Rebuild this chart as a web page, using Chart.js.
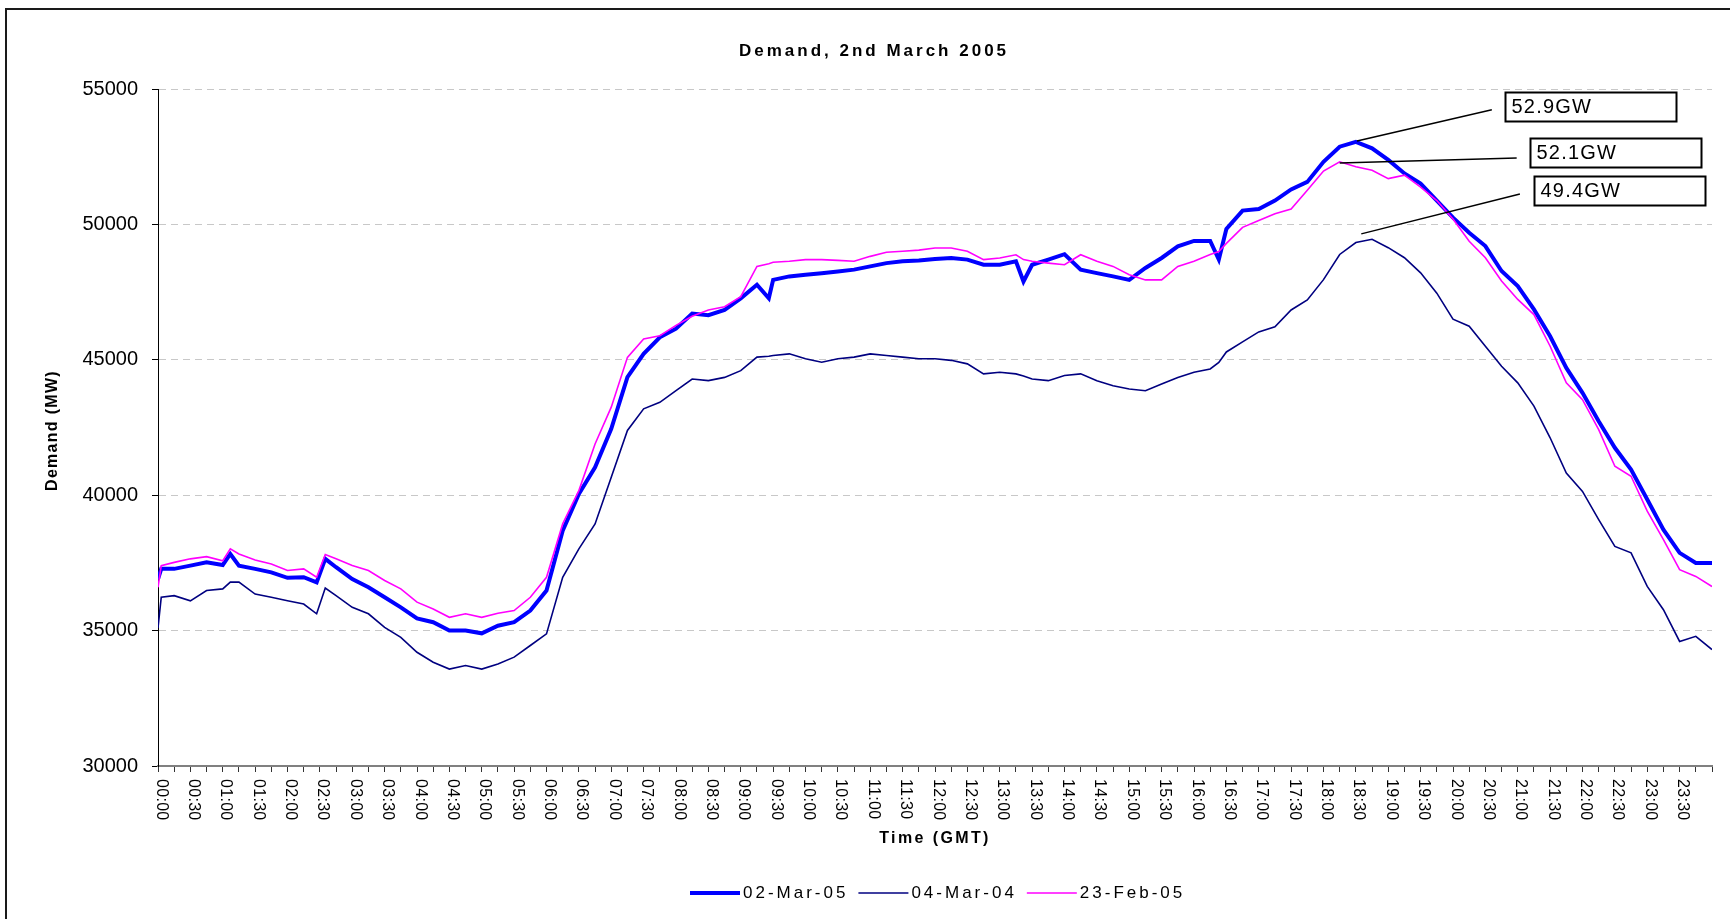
<!DOCTYPE html>
<html>
<head>
<meta charset="utf-8">
<script src="https://cdn.jsdelivr.net/npm/chart.js@4/dist/chart.umd.min.js"></script>
<style>
  body { margin: 0; background: #fff; }
  canvas { display: block; }
</style>
</head>
<body>
<canvas id="demandChart" width="1730" height="919"></canvas>
<script>
// minutes after midnight (GMT) for every reading
const times = [
  0, 3, 15, 30, 45,
  60, 67, 75, 90, 105,
  120, 135, 147, 155, 165,
  180, 195, 210, 225,
  240, 255, 270, 285,
  300, 315, 330, 345,
  360, 375, 390, 405,
  420, 435, 450, 465,
  480, 495, 510, 525,
  540, 555, 566, 570, 585,
  600, 615, 630, 645,
  660, 675, 690, 705,
  720, 735, 750, 765,
  780, 795, 802, 810, 825,
  840, 855, 870, 885,
  900, 915, 930, 945,
  960, 975, 983, 990, 1005,
  1020, 1035, 1050, 1065,
  1080, 1095, 1110, 1125,
  1140, 1155, 1170, 1185,
  1200, 1215, 1230, 1245,
  1260, 1275, 1290, 1305,
  1320, 1335, 1350, 1365,
  1380, 1395, 1410, 1425,
  1440
];

// demand in MW
const mar02_05 = [
  36900, 37280, 37280, 37400, 37520,
  37420, 37830, 37400, 37280, 37150,
  36950, 36970, 36780, 37650, 37340,
  36900, 36600, 36230, 35860,
  35450, 35310, 35000, 35000,
  34900, 35180, 35310, 35740,
  36480, 38690, 40050, 41030,
  42450, 44360, 45220, 45830,
  46150, 46710, 46650, 46840,
  47270, 47770, 47270, 47950, 48080,
  48140, 48200, 48260, 48330,
  48450, 48570, 48640, 48670,
  48720, 48760, 48700, 48510,
  48510, 48640, 47890, 48510, 48700,
  48900, 48330, 48200, 48080,
  47950, 48390, 48760, 49190,
  49390, 49390, 48700, 49830, 50510,
  50570, 50880, 51290, 51570,
  52310, 52870, 53050, 52810,
  52380, 51880, 51510, 50880,
  50250, 49690, 49200, 48280,
  47720, 46860, 45870, 44700,
  43780, 42730, 41750, 40950,
  39840, 38730, 37870, 37500,
  37500
];

const mar04_04 = [
  35100, 36230, 36290, 36100, 36480,
  36540, 36790, 36790, 36350, 36230,
  36100, 35980, 35620, 36570, 36290,
  35860, 35620, 35120, 34750,
  34200, 33830, 33580, 33710,
  33580, 33770, 34020, 34450,
  34880, 36970, 38020, 38940,
  40660, 42390, 43190, 43430,
  43860, 44290, 44230, 44350,
  44600, 45100, 45130, 45160, 45220,
  45040, 44910, 45040, 45100,
  45220, 45160, 45100, 45040,
  45040, 44980, 44850, 44480,
  44540, 44480, 44400, 44290, 44230,
  44420, 44480, 44230, 44040,
  43920, 43860, 44110, 44350,
  44540, 44660, 44900, 45290, 45660,
  46030, 46220, 46840, 47210,
  47960, 48890, 49330, 49450,
  49140, 48770, 48210, 47460,
  46500, 46240, 45500, 44760,
  44150, 43290, 42120, 40820,
  40140, 39100, 38110, 37870,
  36630, 35770, 34600, 34790,
  34300
];

const feb23_05 = [
  36600, 37400, 37520, 37650, 37730,
  37580, 38020, 37830, 37610, 37460,
  37220, 37280, 36970, 37810, 37650,
  37400, 37220, 36850, 36540,
  36050, 35800, 35490, 35620,
  35490, 35640, 35740, 36230,
  36970, 38940, 40170, 41890,
  43250, 45090, 45770, 45890,
  46270, 46610, 46840, 46960,
  47330, 48450, 48550, 48600, 48640,
  48700, 48700, 48670, 48640,
  48820, 48970, 49010, 49050,
  49130, 49130, 49010, 48700,
  48760, 48880, 48700, 48640, 48570,
  48510, 48880, 48640, 48450,
  48140, 47950, 47950, 48450,
  48640, 48890, 49000, 49300, 49890,
  50140, 50390, 50570, 51260,
  51970, 52310, 52130, 52000,
  51690, 51820, 51380, 50880,
  50200, 49380, 48770, 47910,
  47230, 46670, 45500, 44150,
  43530, 42420, 41070, 40700,
  39410, 38360, 37250, 37000,
  36630
];

const seriesNames = ['02-Mar-05', '04-Mar-04', '23-Feb-05'];

const timeLabels = [
  '00:00', '00:30', '01:00', '01:30', '02:00', '02:30', '03:00', '03:30',
  '04:00', '04:30', '05:00', '05:30', '06:00', '06:30', '07:00', '07:30',
  '08:00', '08:30', '09:00', '09:30', '10:00', '10:30', '11:00', '11:30',
  '12:00', '12:30', '13:00', '13:30', '14:00', '14:30', '15:00', '15:30',
  '16:00', '16:30', '17:00', '17:30', '18:00', '18:30', '19:00', '19:30',
  '20:00', '20:30', '21:00', '21:30', '22:00', '22:30', '23:00', '23:30'
];

// peak call-outs: leader from the curve to a text box (data units)
const peakNotes = [
  { text: '52.9GW', from: [1111, 53080], to: [1236, 54230], box: [1248, 54355] },
  { text: '52.1GW', from: [1095, 52270], to: [1259, 52450], box: [1271, 52640] },
  { text: '49.4GW', from: [1115, 49650], to: [1262, 51120], box: [1275, 51255] }
];

const FONT = "'Liberation Sans', Arial, sans-serif";
const colours = ['#0000ff', '#000080', '#ff00ff'];
const widths = [4, 1.6, 1.6];

function toPoints(vals) {
  return times.map((t, i) => ({ x: t, y: vals[i] }));
}

const decor = {
  id: 'decor',
  afterDraw(chart) {
    const ctx = chart.ctx;
    const xs = chart.scales.x;
    const ys = chart.scales.y;
    const area = chart.chartArea;

    ctx.save();
    // outer frame
    ctx.strokeStyle = '#1a1a1a';
    ctx.lineWidth = 2;
    ctx.strokeRect(6, 9, 1760, 940);

    ctx.fillStyle = '#000';

    // title
    ctx.font = 'bold 17px ' + FONT;
    ctx.letterSpacing = '3px';
    ctx.textAlign = 'center';
    ctx.textBaseline = 'middle';
    ctx.fillText('Demand, 2nd March 2005', 874, 51);

    // axis titles
    ctx.font = 'bold 16px ' + FONT;
    ctx.letterSpacing = '2.4px';
    ctx.fillText('Time (GMT)', (area.left + area.right) / 2, 839);
    ctx.save();
    ctx.translate(53, (area.top + area.bottom) / 2 + 3);
    ctx.rotate(-Math.PI / 2);
    ctx.letterSpacing = '1.3px';
    ctx.fillText('Demand (MW)', 0, 0);
    ctx.restore();

    // time labels, reading downwards
    ctx.font = '16px ' + FONT;
    ctx.letterSpacing = '0.3px';
    ctx.textAlign = 'left';
    timeLabels.forEach((lab, i) => {
      const px = xs.getPixelForValue(i * 30);
      ctx.save();
      ctx.translate(px + 3, area.bottom + 13);
      ctx.rotate(Math.PI / 2);
      ctx.fillText(lab, 0, 0);
      ctx.restore();
    });

    // legend
    const legY = 893;
    let lx = 690;
    ctx.font = '17px ' + FONT;
    ctx.letterSpacing = '3px';
    ctx.textBaseline = 'middle';
    seriesNames.forEach((name, i) => {
      ctx.strokeStyle = colours[i];
      ctx.lineWidth = widths[i];
      ctx.beginPath();
      ctx.moveTo(lx, legY);
      ctx.lineTo(lx + 50, legY);
      ctx.stroke();
      ctx.fillText(name, lx + 53, legY);
      lx += 53 + ctx.measureText(name).width + 10;
    });

    // call-outs
    ctx.font = '20px ' + FONT;
    ctx.letterSpacing = '1.2px';
    peakNotes.forEach(n => {
      ctx.strokeStyle = '#000';
      ctx.lineWidth = 1.5;
      ctx.beginPath();
      ctx.moveTo(xs.getPixelForValue(n.from[0]), ys.getPixelForValue(n.from[1]));
      ctx.lineTo(xs.getPixelForValue(n.to[0]), ys.getPixelForValue(n.to[1]));
      ctx.stroke();
      const bx = Math.round(xs.getPixelForValue(n.box[0])) + 0.5;
      const by = Math.round(ys.getPixelForValue(n.box[1]) - 14.5) + 0.5;
      ctx.fillStyle = '#fff';
      ctx.fillRect(bx, by, 171, 29);
      ctx.lineWidth = 2;
      ctx.strokeRect(bx, by, 171, 29);
      ctx.fillStyle = '#000';
      ctx.fillText(n.text, bx + 6, by + 15);
    });
    ctx.restore();
  }
};

new Chart(document.getElementById('demandChart'), {
  type: 'line',
  data: {
    datasets: seriesNames.map((name, i) => ({
      label: name,
      data: toPoints([mar02_05, mar04_04, feb23_05][i]),
      borderColor: colours[i],
      backgroundColor: colours[i],
      borderWidth: widths[i],
      pointRadius: 0,
      tension: 0,
      order: 2 - i
    }))
  },
  options: {
    responsive: false,
    animation: false,
    devicePixelRatio: 1,
    layout: { padding: { left: 0, top: 89, right: 18, bottom: 0 } },
    plugins: {
      legend: { display: false },
      title: { display: false },
      tooltip: { enabled: false }
    },
    scales: {
      x: {
        type: 'linear',
        min: 0,
        max: 1440,
        afterFit(scale) { scale.height = 153; },
        grid: {
          drawOnChartArea: false,
          tickLength: 6,
          tickColor: '#333'
        },
        border: { color: '#808080', width: 2 },
        ticks: {
          stepSize: 15,
          autoSkip: false,
          maxRotation: 0,
          callback: () => ''
        }
      },
      y: {
        min: 30000,
        max: 55000,
        afterFit(scale) { scale.width = 158; },
        grid: {
          color: '#c8c8c8',
          lineWidth: 1,
          tickLength: 6,
          tickColor: '#000'
        },
        border: { color: '#000', width: 1, dash: [7, 5] },
        ticks: {
          stepSize: 5000,
          padding: 14,
          color: '#000',
          font: { family: FONT, size: 20 },
          callback: v => String(v)
        }
      }
    }
  },
  plugins: [decor]
});
</script>
</body>
</html>
